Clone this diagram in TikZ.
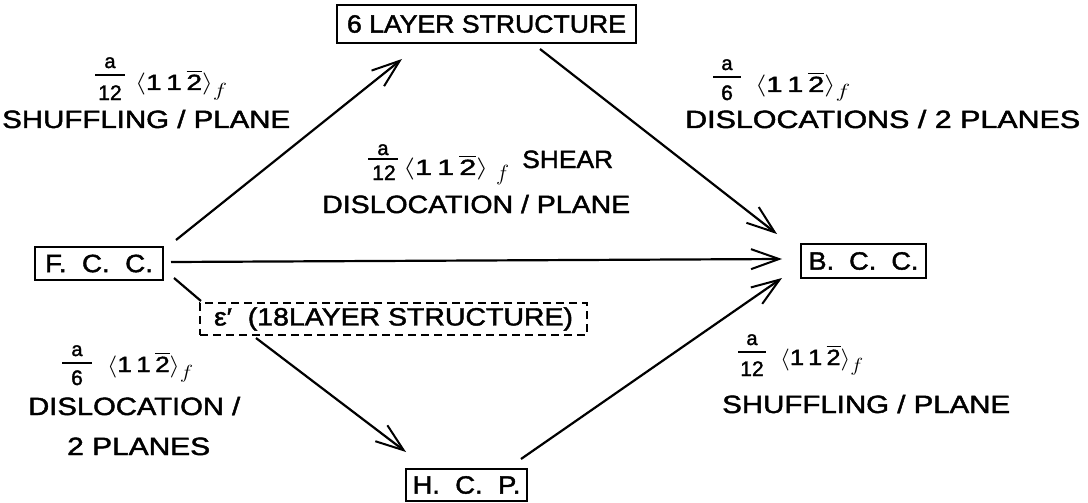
\documentclass[tikz,border=0pt]{standalone}
\usepackage{fix-cm}
\usepackage{amsmath}
\usepackage{graphicx}
\usepackage{fontspec}
\setmainfont{Liberation Sans}[FakeBold=1.6]
\usetikzlibrary{arrows.meta}
\newcommand\fitw[2]{\resizebox{#1pt}{\height}{#2}}
\newcommand\mil{$\langle$1\,1\,$\overline{\mbox{2}}\rangle$\raisebox{-6pt}{\fontsize{19}{19}\selectfont$f$}}
\tikzset{
  box/.style={draw, line width=2pt, rectangle, inner sep=0pt},
  dbox/.style={box, dash pattern=on 8pt off 5pt},
  lbl/.style={inner sep=0pt, anchor=base west, font=\fontsize{25}{30}\selectfont},
  brk/.style={inner sep=0pt, anchor=base west, font=\fontsize{22}{26}\selectfont},
  fnum/.style={inner sep=0pt, anchor=base, font=\fontsize{20}{24}\selectfont},
  fden/.style={inner sep=0pt, anchor=base, font=\fontsize{21}{24}\selectfont},
  fbar/.style={fill=black, inner sep=0pt, minimum height=2pt},
  btxt/.style={font=\fontsize{25}{30}\selectfont},
  arr/.style={line width=2.2pt, -{Straight Barb[length=28pt,width=20pt,line width=2pt]}},
  ln/.style={line width=2.2pt},
}
\begin{document}
\begin{tikzpicture}[x=1pt,y=-1pt]
\useasboundingbox (0,0) rectangle (1088,503);
% boxes
\node[box, minimum width=299pt, minimum height=38pt, btxt] (L6) at (486.5,24) {\fitw{279}{6 LAYER STRUCTURE}};
\node[box, minimum width=128pt, minimum height=33pt, btxt] (fcc) at (99,263.5) {\fitw{108}{F.\ \ C.\ \ C.}};
\node[box, minimum width=125pt, minimum height=34pt, btxt] (bcc) at (863.5,261) {\fitw{110}{B.\ \ C.\ \ C.}};
\node[box, minimum width=121pt, minimum height=32pt, btxt] (hcp) at (466.5,485) {\fitw{108}{H.\ \ C.\ \ P.}};
\node[dbox, minimum width=387pt, minimum height=32pt, btxt] (eps) at (393.5,319) {\fitw{359}{ε′\ \ (18LAYER STRUCTURE)}};
% connectors
\draw[arr] ([shift={(12,-6)}]fcc.north east) -- ([shift={(66,15)}]L6.south west);
\draw[arr] ([shift={(-97,5)}]L6.south east) -- ([shift={(-23,-9)}]bcc.north west);
\draw[arr] ([shift={(7,-1.5)}]fcc.east) -- ([shift={(-18,-2)}]bcc.west);
\draw[ln] ([shift={(10,-3)}]fcc.south east) -- ([shift={(2,-1)}]eps.north west);
\draw[arr] ([shift={(57,2)}]eps.south west) -- ([shift={(1,-16)}]hcp.north west);
\draw[arr] ([shift={(-7,-9)}]hcp.north east) -- ([shift={(-18,-1)}]bcc.south west);
% upper left label
\node[fnum] (ulfn) at (110,68) {a};
\node[fbar, minimum width=30pt] (ulfb) at (110,75) {};
\node[fden] (ulfd) at (110,100) {12};
\node[brk] (ulb) at (135,90) {\fitw{92}{\mil}};
\node[lbl] (ult) at (2,128) {\fitw{288}{SHUFFLING / PLANE}};
% upper right label
\node[fnum] (urfn) at (727,70) {a};
\node[fbar, minimum width=28pt] (urfb) at (727,77) {};
\node[fden] (urfd) at (727,100) {6};
\node[brk] (urb) at (755,92) {\fitw{95}{\mil}};
\node[lbl] (urt) at (685,128) {\fitw{395}{DISLOCATIONS / 2 PLANES}};
% middle label
\node[fnum] (mfn) at (383,155) {a};
\node[fbar, minimum width=30pt] (mfb) at (383,159) {};
\node[fden] (mfd) at (384,180) {12};
\node[brk] (mb) at (403,175) {\fitw{85}{$\langle$1\,1\,$\overline{\mbox{2}}\rangle$}};
\node[brk] (mff) at (496,180) {$f$};
\node[lbl] (ms) at (522,168) {\fitw{91}{SHEAR}};
\node[lbl] (mt) at (322,213) {\fitw{308}{DISLOCATION / PLANE}};
% lower left label
\node[fnum] (llfn) at (77,356) {a};
\node[fbar, minimum width=30pt] (llfb) at (77,363) {};
\node[fden] (llfd) at (77,385) {6};
\node[brk] (llb) at (107,372) {\fitw{86}{\mil}};
\node[lbl] (llt1) at (28,415) {\fitw{212}{DISLOCATION /}};
\node[lbl] (llt2) at (67,455) {\fitw{143}{2 PLANES}};
% lower right label
\node[fnum] (lrfn) at (752,345) {a};
\node[fbar, minimum width=28pt] (lrfb) at (752,352) {};
\node[fden] (lrfd) at (752,376) {12};
\node[brk] (lrb) at (780,365) {\fitw{83}{\mil}};
\node[lbl] (lrt) at (722,413) {\fitw{288}{SHUFFLING / PLANE}};
\end{tikzpicture}
\end{document}
